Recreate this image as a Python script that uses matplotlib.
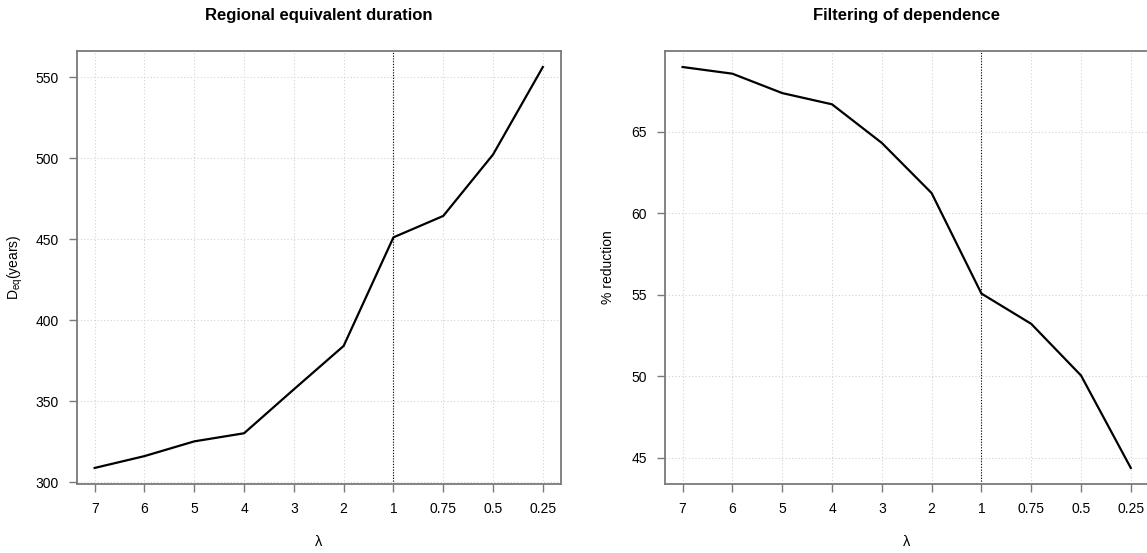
import numpy as np
import matplotlib
matplotlib.use('Agg')
import matplotlib.pyplot as plt

plt.rcParams['font.family'] = ['Liberation Sans', 'DejaVu Sans']

# lambda values (equally spaced categories)
lambdas = ['7', '6', '5', '4', '3', '2', '1', '0.75', '0.5', '0.25']
# regional equivalent duration (years)
deq = [308.9, 316.2, 325.3, 330.3, 357.4, 384.2, 451.2, 464.4, 502.3, 556.3]
# % reduction
reduction = [68.99, 68.58, 67.39, 66.70, 64.33, 61.25, 55.08, 53.22, 50.05, 44.37]
# y ticks
deq_ticks = [300, 350, 400, 450, 500, 550]
red_ticks = [45, 50, 55, 60, 65]

x = np.arange(len(lambdas))
x_ref = lambdas.index('1')

fig = plt.figure(figsize=(11.47, 5.53), dpi=100)
ax1 = fig.add_axes([0.0669, 0.1248, 0.4220, 0.7830])
ax2 = fig.add_axes([0.5795, 0.1248, 0.4220, 0.7830])

frame_col = '#7a7a7a'


def style(ax, y, yticks, title, ylabel, ylab_x):
    ax.plot(x, y, color='black', lw=1.6, zorder=3)
    ax.margins(x=0.04, y=0.04)
    ax.set_xticks(x)
    ax.set_xticklabels(lambdas)
    ax.set_yticks(yticks)
    ax.grid(True, color='#d3d3d3', ls=(0, (1, 2)), lw=0.8)
    ax.axvline(x[x_ref], color='black', ls=(0, (1, 1.5)), lw=0.8, zorder=2)
    for s in ax.spines.values():
        s.set_color(frame_col)
        s.set_linewidth(1.3)
    ax.tick_params(axis='both', direction='out', length=6, width=1.0,
                   color=frame_col, labelsize=10, pad=7)
    ax.set_title(title, fontsize=12, fontweight='bold', pad=22)
    ax.set_xlabel('λ', fontsize=10.5, labelpad=14)
    ax.set_ylabel(ylabel, fontsize=10, va='center')
    ax.yaxis.set_label_coords(ylab_x, 0.5)


style(ax1, deq, deq_ticks, 'Regional equivalent duration',
      r'$\mathregular{D_{eq}(years)}$', -0.127)
style(ax2, reduction, red_ticks, 'Filtering of dependence',
      '% reduction', -0.117)

fig.savefig('out.png', dpi=100)
